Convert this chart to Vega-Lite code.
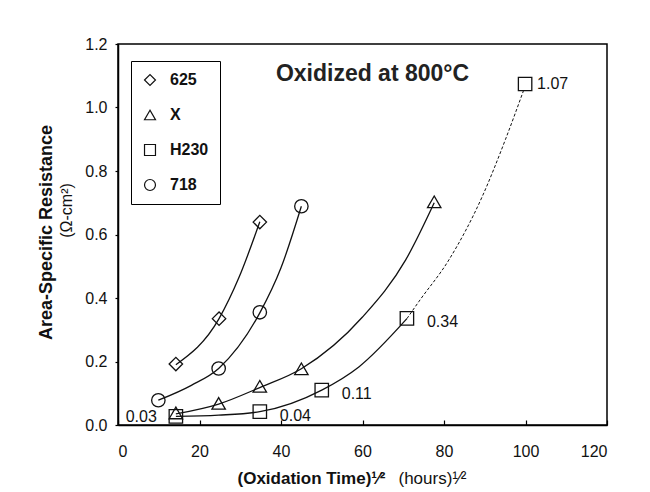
{
  "$schema": "https://vega.github.io/schema/vega-lite/v6.json",
  "width": 489,
  "height": 381,
  "autosize": {"type": "none"},
  "padding": {"left": 118, "top": 44, "right": 43, "bottom": 67},
  "background": "white",
  "config": {
    "font": "Liberation Sans",
    "view": {"stroke": "black", "strokeWidth": 1.5},
    "axis": {
      "domainColor": "black", "domainWidth": 1.5,
      "tickColor": "black", "tickWidth": 1.2,
      "labelColor": "#111", "titleColor": "#111",
      "grid": false,
      "labelFont": "Liberation Sans",
      "labelFontSize": 16
    }
  },
  "datasets": {
    "points": [
      {"series": "625", "x": 14.2, "y": 0.192},
      {"series": "625", "x": 24.8, "y": 0.335},
      {"series": "625", "x": 34.8, "y": 0.639},
      {"series": "X", "x": 14.2, "y": 0.038},
      {"series": "X", "x": 24.7, "y": 0.068},
      {"series": "X", "x": 34.8, "y": 0.122},
      {"series": "X", "x": 45.0, "y": 0.177},
      {"series": "X", "x": 77.6, "y": 0.703},
      {"series": "H230", "x": 14.2, "y": 0.027, "label": "0.03"},
      {"series": "H230", "x": 34.8, "y": 0.042, "label": "0.04"},
      {"series": "H230", "x": 50.0, "y": 0.110, "label": "0.11"},
      {"series": "H230", "x": 70.9, "y": 0.336, "label": "0.34"},
      {"series": "H230", "x": 99.9, "y": 1.074, "label": "1.07"},
      {"series": "718", "x": 9.9, "y": 0.078},
      {"series": "718", "x": 24.7, "y": 0.178},
      {"series": "718", "x": 34.8, "y": 0.355},
      {"series": "718", "x": 45.0, "y": 0.689}
    ],
    "curves": [
      {"curve": "625", "part": "fit", "x": 14.2, "y": 0.19},
      {"curve": "625", "part": "fit", "x": 24.8, "y": 0.335},
      {"curve": "625", "part": "fit", "x": 29.7, "y": 0.465},
      {"curve": "625", "part": "fit", "x": 34.8, "y": 0.64},
      {"curve": "718", "part": "fit", "x": 9.9, "y": 0.078},
      {"curve": "718", "part": "fit", "x": 18.0, "y": 0.125},
      {"curve": "718", "part": "fit", "x": 24.7, "y": 0.178},
      {"curve": "718", "part": "fit", "x": 34.8, "y": 0.353},
      {"curve": "718", "part": "fit", "x": 40.0, "y": 0.495},
      {"curve": "718", "part": "fit", "x": 45.0, "y": 0.689},
      {"curve": "X", "part": "fit", "x": 14.2, "y": 0.035},
      {"curve": "X", "part": "fit", "x": 24.7, "y": 0.066},
      {"curve": "X", "part": "fit", "x": 34.8, "y": 0.118},
      {"curve": "X", "part": "fit", "x": 45.0, "y": 0.177},
      {"curve": "X", "part": "fit", "x": 60.0, "y": 0.34},
      {"curve": "X", "part": "fit", "x": 70.6, "y": 0.52},
      {"curve": "X", "part": "fit", "x": 77.6, "y": 0.70},
      {"curve": "H230", "part": "fit", "x": 14.2, "y": 0.027},
      {"curve": "H230", "part": "fit", "x": 24.7, "y": 0.031},
      {"curve": "H230", "part": "fit", "x": 34.8, "y": 0.042},
      {"curve": "H230", "part": "fit", "x": 50.0, "y": 0.11},
      {"curve": "H230", "part": "fit", "x": 59.1, "y": 0.183},
      {"curve": "H230", "part": "fit", "x": 70.9, "y": 0.335},
      {"curve": "H230", "part": "extrapolated", "x": 70.9, "y": 0.335},
      {"curve": "H230", "part": "extrapolated", "x": 73.9, "y": 0.39},
      {"curve": "H230", "part": "extrapolated", "x": 81.2, "y": 0.52},
      {"curve": "H230", "part": "extrapolated", "x": 89.4, "y": 0.72},
      {"curve": "H230", "part": "extrapolated", "x": 95.1, "y": 0.9},
      {"curve": "H230", "part": "extrapolated", "x": 99.7, "y": 1.06}
    ]
  },
  "layer": [
    {
      "data": {"name": "curves"},
      "transform": [{"filter": "datum.part === 'fit'"}],
      "mark": {"type": "line", "interpolate": "monotone", "color": "#111", "strokeWidth": 1.3},
      "encoding": {
        "x": {
          "field": "x", "type": "quantitative",
          "scale": {"domain": [0, 120], "nice": false, "zero": false},
          "axis": {
            "orient": "bottom", "values": [0, 20, 40, 60, 80, 100, 120], "format": "d",
            "tickSize": -5, "labelPadding": 23,
            "title": "(Oxidation Time)¹⁄²", "titleFontSize": 17, "titleFontWeight": "bold",
            "titleX": 119, "titleY": 58, "titleAlign": "left", "titleBaseline": "alphabetic"
          }
        },
        "y": {
          "field": "y", "type": "quantitative",
          "scale": {"domain": [0, 1.2], "nice": false},
          "axis": {
            "orient": "left", "values": [0, 0.2, 0.4, 0.6, 0.8, 1.0, 1.2], "format": ".1f",
            "tickSize": 3, "labelPadding": 8,
            "title": "Area-Specific Resistance", "titleFontSize": 18, "titleFontWeight": "bold",
            "titleX": -72, "titleY": 188, "titleAngle": 270, "titleAlign": "center", "titleBaseline": "middle"
          }
        },
        "detail": {"field": "curve", "type": "nominal"}
      }
    },
    {
      "data": {"name": "curves"},
      "transform": [{"filter": "datum.part === 'extrapolated'"}],
      "mark": {"type": "line", "interpolate": "monotone", "color": "#111", "strokeWidth": 1, "strokeDash": [3, 2]},
      "encoding": {
        "x": {"field": "x", "type": "quantitative", "scale": {"domain": [0, 120], "nice": false, "zero": false}, "axis": null},
        "y": {"field": "y", "type": "quantitative", "scale": {"domain": [0, 1.2], "nice": false}, "axis": null}
      }
    },
    {
      "data": {"name": "points"},
      "mark": {"type": "point", "filled": false, "color": "#111", "strokeWidth": 1.3, "size": 180, "opacity": 1},
      "encoding": {
        "x": {
          "field": "x", "type": "quantitative",
          "scale": {"domain": [0, 120], "nice": false, "zero": false},
          "axis": {
            "orient": "top", "labels": false, "ticks": false, "domain": false, "minExtent": 0, "maxExtent": 0,
            "title": "Oxidized at 800°C", "titleFontSize": 23, "titleFontWeight": "bold", "titleColor": "#222",
            "titleX": 254, "titleY": 36, "titleAlign": "center", "titleBaseline": "alphabetic"
          }
        },
        "y": {
          "field": "y", "type": "quantitative",
          "scale": {"domain": [0, 1.2], "nice": false},
          "axis": {
            "orient": "right", "labels": false, "ticks": false, "domain": false,
            "title": "(Ω-cm²)", "titleFontSize": 16, "titleFontWeight": "normal",
            "titleX": -541, "titleY": 166, "titleAngle": 270, "titleAlign": "center", "titleBaseline": "middle"
          }
        },
        "shape": {
          "field": "series", "type": "nominal",
          "scale": {"domain": ["625", "X", "H230", "718"], "range": ["diamond", "triangle-up", "square", "circle"]},
          "legend": {
            "title": null, "orient": "none", "legendX": 13, "legendY": 17,
            "strokeColor": "black", "fillColor": "white",
            "padding": 11, "rowPadding": 19,
            "labelFont": "Liberation Sans", "labelFontSize": 16, "labelFontWeight": "bold", "labelColor": "#111",
            "labelOffset": 12, "symbolSize": 120, "symbolStrokeColor": "#111", "symbolStrokeWidth": 1.2, "symbolFillColor": "transparent"
          }
        }
      }
    },
    {
      "data": {"name": "points"},
      "transform": [{"filter": "datum.label && datum.x < 20"}],
      "mark": {"type": "text", "align": "right", "baseline": "middle", "dx": -19, "dy": 1, "font": "Liberation Sans", "fontSize": 16, "color": "#111"},
      "encoding": {
        "x": {
          "field": "x", "type": "quantitative", "scale": {"domain": [0, 120], "nice": false, "zero": false},
          "axis": {
            "orient": "top", "labels": false, "ticks": false, "domain": false, "minExtent": 0, "maxExtent": 0,
            "title": "(hours)¹⁄²", "titleFontSize": 17, "titleFontWeight": "normal",
            "titleX": 280, "titleY": 439, "titleAlign": "left", "titleBaseline": "alphabetic"
          }
        },
        "y": {"field": "y", "type": "quantitative", "scale": {"domain": [0, 1.2], "nice": false}, "axis": null},
        "text": {"field": "label", "type": "nominal"}
      }
    },
    {
      "data": {"name": "points"},
      "transform": [{"filter": "datum.label && datum.x > 20 && datum.y < 1"}],
      "mark": {"type": "text", "align": "left", "baseline": "middle", "dx": 20, "dy": 4, "font": "Liberation Sans", "fontSize": 16, "color": "#111"},
      "encoding": {
        "x": {"field": "x", "type": "quantitative", "scale": {"domain": [0, 120], "nice": false, "zero": false}, "axis": null},
        "y": {"field": "y", "type": "quantitative", "scale": {"domain": [0, 1.2], "nice": false}, "axis": null},
        "text": {"field": "label", "type": "nominal"}
      }
    },
    {
      "data": {"name": "points"},
      "transform": [{"filter": "datum.label && datum.y > 1"}],
      "mark": {"type": "text", "align": "left", "baseline": "middle", "dx": 12, "dy": 0, "font": "Liberation Sans", "fontSize": 16, "color": "#111"},
      "encoding": {
        "x": {"field": "x", "type": "quantitative", "scale": {"domain": [0, 120], "nice": false, "zero": false}, "axis": null},
        "y": {"field": "y", "type": "quantitative", "scale": {"domain": [0, 1.2], "nice": false}, "axis": null},
        "text": {"field": "label", "type": "nominal"}
      }
    }
  ],
  "resolve": {"axis": {"x": "independent", "y": "independent"}}
}
